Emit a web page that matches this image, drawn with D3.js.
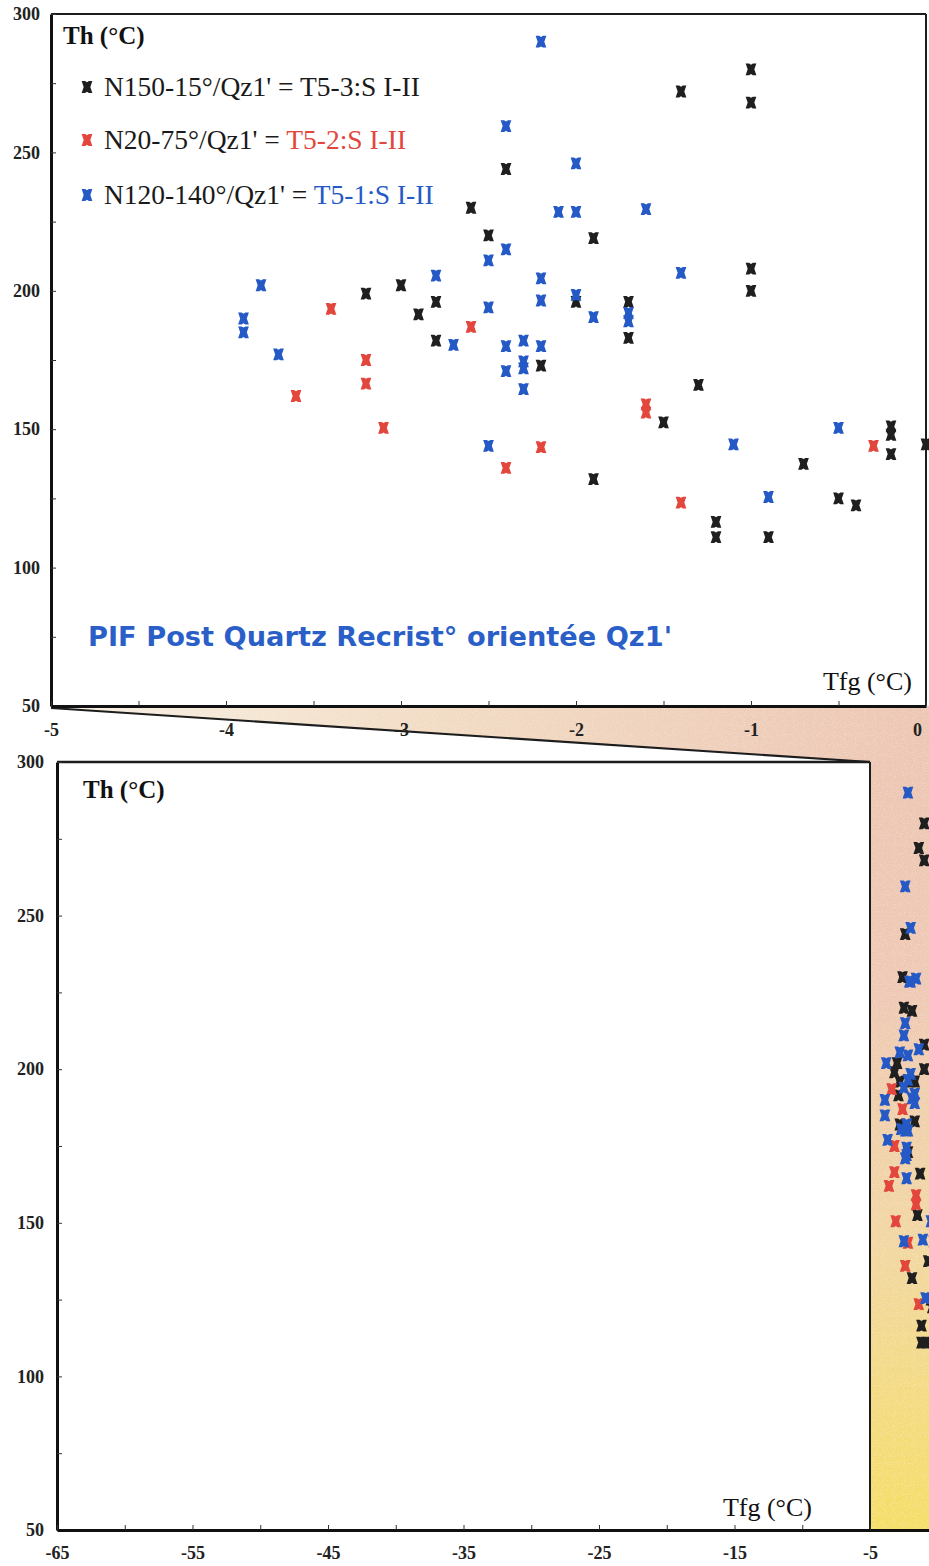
<!DOCTYPE html>
<html>
<head>
<meta charset="utf-8">
<script src="https://cdn.jsdelivr.net/npm/d3@7"></script>
<style>
  html, body { margin: 0; padding: 0; background: #ffffff; }
  svg { display: block; }
</style>
</head>
<body>
<svg id="chart" width="929" height="1566"></svg>
<script>
// ---------------- DATA ----------------
const seriesNames = ["N150-15°/Qz1' = ", "N20-75°/Qz1' = ", "N120-140°/Qz1' = "];
const seriesTags  = ["T5-3:S I-II", "T5-2:S I-II", "T5-1:S I-II"];

// T5-3 (black)
const blackTfg = [-1.0,-1.4,-1.0,-2.4,-2.6,-2.5,-1.9,-1.0,-1.0,-3.0,-3.2,-2.8,-2.9,-2.0,-1.7,-2.8,-1.7,-2.2,-1.3,-1.5,-1.9,-1.2,-1.2,-0.9,-0.7,-0.5,-0.4,-0.2,-0.2,-0.2,0.0];
const blackTh  = [280,272,268,244,230,220,219,208,200,202,199,196,191.5,196,196,182,183,173,166,152.5,132,116.5,111,111,137.5,125,122.5,151,148,141,144.5];

// T5-2 (red)
const redTfg = [-3.4,-3.2,-3.2,-3.6,-3.1,-2.6,-2.2,-2.4,-1.6,-1.6,-1.4,-0.3];
const redTh  = [193.5,175,166.5,162,150.5,187,143.5,136,159,156,123.5,144];

// T5-1 (blue)
const blueTfg = [-2.2,-2.4,-2.0,-2.1,-2.0,-1.6,-2.5,-2.4,-2.8,-1.4,-3.8,-2.2,-2.2,-2.0,-1.9,-1.7,-1.7,-3.9,-3.9,-3.7,-2.5,-2.7,-2.4,-2.3,-2.2,-2.3,-2.3,-2.4,-2.3,-2.5,-1.1,-0.9,-0.5];
const blueTh  = [290,259.5,246,228.5,228.5,229.5,211,215,205.5,206.5,202,204.5,196.5,198.5,190.5,192,189,190,185,177,194,180.5,180,182,180,174.5,172,171,164.5,144,144.5,125.5,150.5];

const topXTicks = [-5,-4,-3,-2,-1,0];
const botXTicks = [-65,-55,-45,-35,-25,-15,-5];
const yTicks = [50,100,150,200,250,300];

// ---------------- SETUP ----------------
const colors = ["#1f1f1f", "#e2463c", "#2459c6"];
const seriesList = [
  {tfg: blackTfg, th: blackTh},
  {tfg: redTfg, th: redTh},
  {tfg: blueTfg, th: blueTh}
];

const svg = d3.select("#chart");
const serif = "'Liberation Serif', 'DejaVu Serif', serif";
const fmt = d => String(d);

const xTop = d3.scaleLinear().domain([-5, 0]).range([51, 926]);
const yTop = d3.scaleLinear().domain([50, 300]).range([706, 14]);
const xBot = d3.scaleLinear().domain([-65, -5]).range([57, 870]);
const yBot = d3.scaleLinear().domain([50, 300]).range([1530, 762]);

// custom marker (notched hourglass "x")
const hourglass = {
  draw(ctx, size) {
    const s = Math.sqrt(size) / 2;
    const h = s * 1.1;
    ctx.moveTo(-s, -h);
    ctx.lineTo(-s * 0.35, -h);
    ctx.lineTo(0, -h * 0.8);
    ctx.lineTo(s * 0.35, -h);
    ctx.lineTo(s, -h);
    ctx.lineTo(s * 0.62, 0);
    ctx.lineTo(s, h);
    ctx.lineTo(s * 0.35, h);
    ctx.lineTo(0, h * 0.8);
    ctx.lineTo(-s * 0.35, h);
    ctx.lineTo(-s, h);
    ctx.lineTo(-s * 0.62, 0);
    ctx.closePath();
  }
};
const marker = d3.symbol().type(hourglass).size(115);

// ---------------- DEFS ----------------
const defs = svg.append("defs");
const gW = defs.append("linearGradient").attr("id", "wedgeGrad")
  .attr("gradientUnits", "userSpaceOnUse").attr("x1", 51).attr("y1", 0).attr("x2", 929).attr("y2", 0);
gW.append("stop").attr("offset", "0").attr("stop-color", "#f8f0e4");
gW.append("stop").attr("offset", "0.45").attr("stop-color", "#f2dbc3");
gW.append("stop").attr("offset", "1").attr("stop-color", "#edc6b3");

const gR = defs.append("linearGradient").attr("id", "rectGrad")
  .attr("gradientUnits", "userSpaceOnUse").attr("x1", 0).attr("y1", 706).attr("x2", 0).attr("y2", 1530);
gR.append("stop").attr("offset", "0").attr("stop-color", "#edc6b3");
gR.append("stop").attr("offset", "0.35").attr("stop-color", "#efc9b4");
gR.append("stop").attr("offset", "0.65").attr("stop-color", "#f2d7a2");
gR.append("stop").attr("offset", "1").attr("stop-color", "#f5de64");

const noise = defs.append("filter").attr("id", "grain").attr("x", 0).attr("y", 0).attr("width", 1).attr("height", 1);
noise.append("feTurbulence").attr("type", "fractalNoise").attr("baseFrequency", 0.9).attr("numOctaves", 1).attr("seed", 3).attr("result", "n");
noise.append("feColorMatrix").attr("in", "n").attr("type", "matrix")
  .attr("values", "0 0 0 0 1  0 0 0 0 1  0 0 0 0 1  0 0 0 -0.9 0.45").attr("result", "w");
noise.append("feComposite").attr("in", "w").attr("in2", "SourceGraphic").attr("operator", "in").attr("result", "wc");
noise.append("feMerge").selectAll("feMergeNode").data(["SourceGraphic", "wc"]).join("feMergeNode").attr("in", d => d);

// ---------------- ZOOM CONNECTOR ----------------
const zoomG = svg.append("g").attr("filter", "url(#grain)");
zoomG.append("path")
  .attr("d", d3.line()([[xTop(-5), yTop(50)], [929, yTop(50)], [929, yBot(300)], [xBot(-5), yBot(300)], [xTop(-5), yTop(50) + 2]]))
  .attr("fill", "url(#wedgeGrad)");
zoomG.append("rect")
  .attr("x", xBot(-5)).attr("y", yBot(300))
  .attr("width", 929 - xBot(-5)).attr("height", yBot(50) - yBot(300))
  .attr("fill", "url(#rectGrad)");

svg.append("line")
  .attr("x1", xTop(-5)).attr("y1", yTop(50) + 2)
  .attr("x2", xBot(-5)).attr("y2", yBot(300))
  .attr("stroke", "#1d1d1d").attr("stroke-width", 2.2);

function styleAxis(g) {
  g.select(".domain").attr("stroke-width", 3).attr("stroke", "#111");
  g.selectAll(".tick line").attr("stroke", "#333");
  g.selectAll(".tick text").attr("font-size", 18).attr("font-family", serif)
    .attr("font-weight", "bold").attr("fill", "#222");
}

// ---------------- TOP CHART ----------------
const topG = svg.append("g");
topG.append("line").attr("x1", xTop(-5)).attr("x2", xTop(0)).attr("y1", yTop(300)).attr("y2", yTop(300))
  .attr("stroke", "#1d1d1d").attr("stroke-width", 2);
topG.append("line").attr("x1", xTop(0)).attr("x2", xTop(0)).attr("y1", yTop(300)).attr("y2", yTop(50))
  .attr("stroke", "#1d1d1d").attr("stroke-width", 2);

topG.append("g").attr("transform", `translate(${xTop(-5)},0)`)
  .call(d3.axisLeft(yTop).tickValues(yTicks).tickSizeInner(-5).tickSizeOuter(0).tickPadding(11).tickFormat(fmt))
  .call(styleAxis);
topG.append("g").attr("transform", `translate(${xTop(-5)},0)`)
  .call(d3.axisLeft(yTop).tickValues(d3.range(75, 300, 50)).tickSizeInner(-5).tickSizeOuter(0).tickFormat(""))
  .call(g => g.select(".domain").remove())
  .selectAll(".tick line").attr("stroke", "#333");

const xAxTop = topG.append("g").attr("transform", `translate(0,${yTop(50)})`)
  .call(d3.axisBottom(xTop).tickValues(topXTicks).tickSizeInner(-5).tickSizeOuter(0).tickPadding(17).tickFormat(fmt))
  .call(styleAxis);
xAxTop.selectAll(".tick text").filter(d => d === 0).attr("dx", -9);
topG.append("g").attr("transform", `translate(0,${yTop(50)})`)
  .call(d3.axisBottom(xTop).tickValues(d3.range(-4.5, 0, 1)).tickSizeInner(-5).tickSizeOuter(0).tickFormat(""))
  .call(g => g.select(".domain").remove())
  .selectAll(".tick line").attr("stroke", "#333");

topG.append("text").attr("x", 63).attr("y", 44).attr("font-family", serif).attr("font-weight", "bold")
  .attr("font-size", 25).attr("fill", "#111").text("Th (°C)");
topG.append("text").attr("x", 912).attr("y", 690).attr("text-anchor", "end").attr("font-family", serif)
  .attr("font-size", 26).attr("fill", "#111").text("Tfg (°C)");

const legendY = [87, 140, 195];
seriesList.forEach((s, i) => {
  topG.append("path").attr("d", marker).attr("transform", `translate(87,${legendY[i]})`).attr("fill", colors[i]);
  const t = topG.append("text").attr("x", 104).attr("y", legendY[i] + 9).attr("font-family", serif).attr("font-size", 27.5).attr("fill", "#1a1a1a");
  t.append("tspan").text(seriesNames[i]);
  t.append("tspan").attr("fill", i === 0 ? "#1a1a1a" : colors[i]).text(seriesTags[i]);
});

topG.append("text").attr("x", 88).attr("y", 646)
  .attr("font-family", "'DejaVu Sans', 'Verdana', sans-serif").attr("font-weight", "bold")
  .attr("font-size", 27).attr("fill", "#2b5fc8")
  .attr("textLength", 584).attr("lengthAdjust", "spacingAndGlyphs")
  .text("PIF Post Quartz Recrist° orientée Qz1'");

seriesList.forEach((s, i) => {
  topG.append("g").selectAll("path").data(d3.zip(s.tfg, s.th)).join("path")
    .attr("d", marker)
    .attr("transform", d => `translate(${xTop(d[0])},${yTop(d[1])})`)
    .attr("fill", colors[i]);
});

// ---------------- BOTTOM CHART ----------------
const botG = svg.append("g");
botG.append("line").attr("x1", xBot(-65)).attr("x2", xBot(-5)).attr("y1", yBot(300)).attr("y2", yBot(300))
  .attr("stroke", "#1d1d1d").attr("stroke-width", 2.5);
botG.append("line").attr("x1", xBot(-5)).attr("x2", xBot(-5)).attr("y1", yBot(300)).attr("y2", yBot(50))
  .attr("stroke", "#1d1d1d").attr("stroke-width", 2);

botG.append("g").attr("transform", `translate(${xBot(-65)},0)`)
  .call(d3.axisLeft(yBot).tickValues(yTicks).tickSizeInner(-5).tickSizeOuter(0).tickPadding(13).tickFormat(fmt))
  .call(styleAxis);
botG.append("g").attr("transform", `translate(${xBot(-65)},0)`)
  .call(d3.axisLeft(yBot).tickValues(d3.range(75, 300, 50)).tickSizeInner(-5).tickSizeOuter(0).tickFormat(""))
  .call(g => g.select(".domain").remove())
  .selectAll(".tick line").attr("stroke", "#333");

const xBotFull = xBot.copy().domain([-65, 0]).range([xBot(-65), xBot(0)]);
botG.append("g").attr("transform", `translate(0,${yBot(50)})`)
  .call(d3.axisBottom(xBotFull).tickValues(botXTicks).tickSizeInner(-5).tickSizeOuter(0).tickPadding(16).tickFormat(fmt))
  .call(styleAxis);
botG.append("g").attr("transform", `translate(0,${yBot(50)})`)
  .call(d3.axisBottom(xBotFull).tickValues(d3.range(-60, -5, 10)).tickSizeInner(-5).tickSizeOuter(0).tickFormat(""))
  .call(g => g.select(".domain").remove())
  .selectAll(".tick line").attr("stroke", "#333");

botG.append("text").attr("x", 83).attr("y", 798).attr("font-family", serif).attr("font-weight", "bold")
  .attr("font-size", 25).attr("fill", "#111").text("Th (°C)");
botG.append("text").attr("x", 812).attr("y", 1516).attr("text-anchor", "end").attr("font-family", serif)
  .attr("font-size", 26).attr("fill", "#111").text("Tfg (°C)");

seriesList.forEach((s, i) => {
  botG.append("g").selectAll("path").data(d3.zip(s.tfg, s.th)).join("path")
    .attr("d", marker)
    .attr("transform", d => `translate(${xBotFull(d[0])},${yBot(d[1])})`)
    .attr("fill", colors[i]);
});
</script>
</body>
</html>
